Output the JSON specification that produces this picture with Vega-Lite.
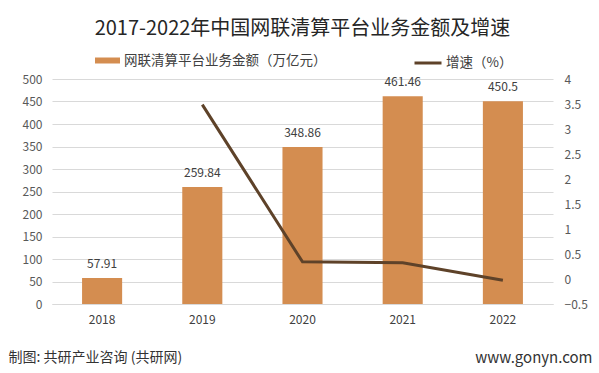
{
  "$schema": "https://vega.github.io/schema/vega-lite/v6.json",
  "autosize": "none",
  "width": 501,
  "height": 225,
  "padding": {"left": 52, "top": 79, "right": 46, "bottom": 69},
  "background": "white",
  "config": {
    "font": "Noto Sans CJK SC",
    "view": {"stroke": null},
    "legend": {"padding": 0, "labelFont": "Noto Sans CJK SC", "labelFontSize": 13.5, "labelColor": "#404040", "labelLimit": 400}
  },
  "title": {
    "text": "2017-2022年中国网联清算平台业务金额及增速",
    "fontSize": 20,
    "fontWeight": "normal",
    "color": "#262626",
    "anchor": "middle",
    "offset": 9
  },
  "data": {
    "values": [
      {"year": "2018", "amount": 57.91, "growth": null},
      {"year": "2019", "amount": 259.84, "growth": 3.487},
      {"year": "2020", "amount": 348.86, "growth": 0.3426},
      {"year": "2021", "amount": 461.46, "growth": 0.3228},
      {"year": "2022", "amount": 450.5, "growth": -0.0238}
    ]
  },
  "encoding": {
    "x": {
      "field": "year",
      "type": "ordinal",
      "scale": {"paddingInner": 0.6, "paddingOuter": 0.3},
      "axis": {
        "title": "制图: 共研产业咨询 (共研网)",
        "titleX": -44,
        "titleY": 53,
        "titleAlign": "left",
        "titleBaseline": "middle",
        "titleFontSize": 14,
        "titleFontWeight": "normal",
        "titleColor": "#333333",
        "labelAngle": 0,
        "labelFontSize": 12,
        "labelColor": "#404040",
        "labelPadding": 10,
        "ticks": false,
        "domain": true,
        "domainColor": "#d9d9d9"
      }
    }
  },
  "layer": [
    {
      "encoding": {
        "y": {
          "field": "amount",
          "type": "quantitative",
          "scale": {"domain": [0, 500], "nice": false},
          "axis": {
            "title": null,
            "values": [0, 50, 100, 150, 200, 250, 300, 350, 400, 450, 500],
            "grid": true,
            "gridColor": "#d9d9d9",
            "domain": false,
            "ticks": false,
            "labelFontSize": 12,
            "labelColor": "#595959",
            "labelPadding": 10
          }
        }
      },
      "layer": [
        {
          "mark": {"type": "bar", "color": "#D48D50"},
          "encoding": {
            "fill": {
              "datum": "网联清算平台业务金额（万亿元）",
              "scale": {"range": ["#D48D50"]},
              "legend": {
                "title": null,
                "orient": "none",
                "legendX": 43,
                "legendY": -31,
                "symbolType": "M-1,-0.24H1V0.24H-1Z",
                "symbolSize": 625,
                "symbolStrokeWidth": 0,
                "labelOffset": 4
              }
            }
          }
        },
        {
          "mark": {"type": "text", "baseline": "bottom", "dy": -7, "fontSize": 12, "color": "#404040"},
          "encoding": {
            "text": {"field": "amount", "type": "quantitative", "format": ".2~f"}
          }
        }
      ]
    },
    {
      "transform": [{"filter": "datum.growth != null"}],
      "mark": {"type": "line", "strokeWidth": 3, "color": "#5E4229"},
      "encoding": {
        "y": {
          "field": "growth",
          "type": "quantitative",
          "scale": {"domain": [-0.5, 4], "nice": false, "zero": false},
          "axis": {
            "orient": "right",
            "title": "www.gonyn.com",
            "titleAngle": 0,
            "titleX": 39,
            "titleY": 278,
            "titleAlign": "right",
            "titleBaseline": "middle",
            "titleFontSize": 15,
            "titleFontWeight": "normal",
            "titleColor": "#333333",
            "values": [-0.5, 0, 0.5, 1, 1.5, 2, 2.5, 3, 3.5, 4],
            "format": "~g",
            "grid": false,
            "domain": false,
            "ticks": false,
            "labelFontSize": 12,
            "labelColor": "#595959",
            "labelPadding": 11,
            "labelAlign": "left"
          }
        },
        "stroke": {
          "datum": "增速（%）",
          "scale": {"range": ["#5E4229"]},
          "legend": {
            "title": null,
            "orient": "none",
            "legendX": 361,
            "legendY": -31,
            "symbolType": "stroke",
            "symbolSize": 729,
            "symbolStrokeWidth": 3,
            "labelOffset": 3
          }
        }
      }
    }
  ],
  "resolve": {"scale": {"y": "independent"}}
}
